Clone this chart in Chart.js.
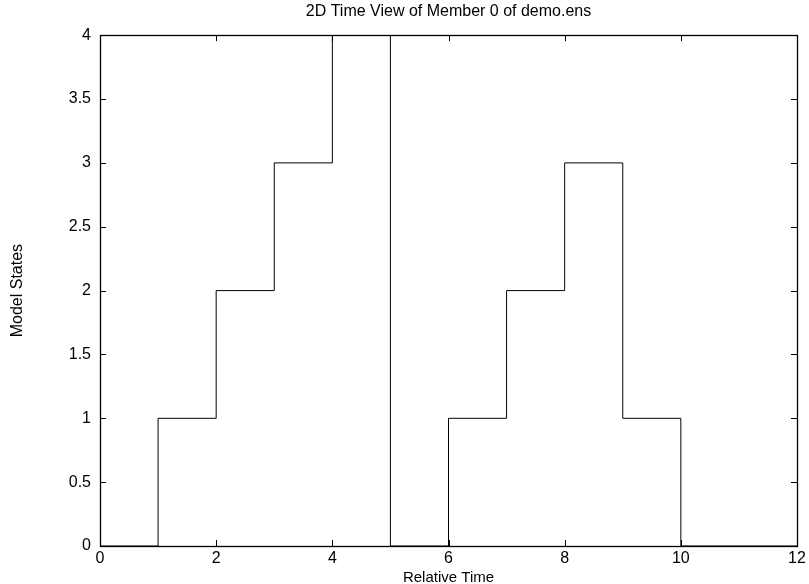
<!DOCTYPE html>
<html>
<head>
<meta charset="utf-8">
<script src="https://cdn.jsdelivr.net/npm/chart.js@4.4.1/dist/chart.umd.min.js"></script>
<style>
  html, body { margin: 0; padding: 0; background: #fff; }
  #wrap { width: 809px; height: 584px; }
</style>
</head>
<body>
<div id="wrap"><canvas id="stateChart" width="809" height="584"></canvas></div>
<script>
// Member 0 states over relative time (held until the next time step)
const times = [0, 1, 2, 3, 4, 5, 6, 7, 8, 9, 10, 12];
const states = [0, 1, 2, 3, 4, 0, 1, 2, 3, 1, 0, 0];
const xTicks = [0, 2, 4, 6, 8, 10, 12];
const yTicks = [0, 0.5, 1, 1.5, 2, 2.5, 3, 3.5, 4];

const FONT = 'Liberation Sans, Arial, Helvetica, sans-serif';

// gnuplot-like frame with inward ticks on all four sides
const framePlugin = {
    id: 'frame',
    afterDraw(chart) {
        const { ctx, chartArea: a, scales } = chart;
        const len = 6;
        ctx.save();
        ctx.strokeStyle = '#000';
        ctx.lineWidth = 1;
        ctx.beginPath();
        xTicks.forEach(v => {
            const px = Math.round(scales.x.getPixelForValue(v)) + 0.5;
            ctx.moveTo(px, a.bottom);
            ctx.lineTo(px, a.bottom - len);
            ctx.moveTo(px, a.top);
            ctx.lineTo(px, a.top + len);
        });
        yTicks.forEach(v => {
            const py = Math.round(scales.y.getPixelForValue(v)) + 0.5;
            ctx.moveTo(a.left, py);
            ctx.lineTo(a.left + len, py);
            ctx.moveTo(a.right, py);
            ctx.lineTo(a.right - len, py);
        });
        ctx.stroke();
        ctx.lineWidth = 1.3;
        ctx.strokeRect(Math.round(a.left) + 0.5, Math.round(a.top) + 0.5,
            Math.round(a.right - a.left), Math.round(a.bottom - a.top));
        ctx.restore();
    }
};

const ctx = document.getElementById('stateChart').getContext('2d');
const chart = new Chart(ctx, {
    type: 'line',
    data: {
        datasets: [{
            data: times.map((t, i) => ({ x: t, y: states[i] })),
            stepped: 'before',
            borderColor: '#000',
            borderWidth: 1,
            pointRadius: 0,
            fill: false
        }]
    },
    options: {
        responsive: false,
        animation: false,
        layout: { padding: { left: 0, right: 12, top: 0, bottom: 0 } },
        plugins: {
            legend: { display: false },
            tooltip: { enabled: false },
            title: {
                display: true,
                fullSize: false,
                text: '2D Time View of Member 0 of demo.ens',
                color: '#000',
                font: { family: FONT, size: 16, weight: 'normal' },
                padding: { top: 2, bottom: 14 }
            }
        },
        scales: {
            x: {
                type: 'linear',
                min: 0,
                max: 12,
                afterFit: s => { s.height = 38; },
                afterBuildTicks: s => { s.ticks = xTicks.map(v => ({ value: v })); },
                grid: { display: false, drawTicks: false },
                border: { display: false },
                ticks: {
                    color: '#000',
                    padding: 3,
                    maxRotation: 0,
                    font: { family: FONT, size: 16 },
                    callback: v => String(v)
                },
                title: {
                    display: true,
                    text: 'Relative Time',
                    color: '#000',
                    font: { family: FONT, size: 15 },
                    padding: { top: 0, bottom: -3 }
                }
            },
            y: {
                type: 'linear',
                min: 0,
                max: 4,
                afterFit: s => { s.width = 100; },
                afterBuildTicks: s => { s.ticks = yTicks.map(v => ({ value: v })); },
                grid: { display: false, drawTicks: false },
                border: { display: false },
                ticks: {
                    color: '#000',
                    padding: 9,
                    font: { family: FONT, size: 16 },
                    callback: v => String(v)
                },
                title: {
                    display: true,
                    text: 'Model States',
                    color: '#000',
                    font: { family: FONT, size: 16 },
                    padding: { top: 8, bottom: 0 }
                }
            }
        }
    },
    plugins: [framePlugin]
});
</script>
</body>
</html>
